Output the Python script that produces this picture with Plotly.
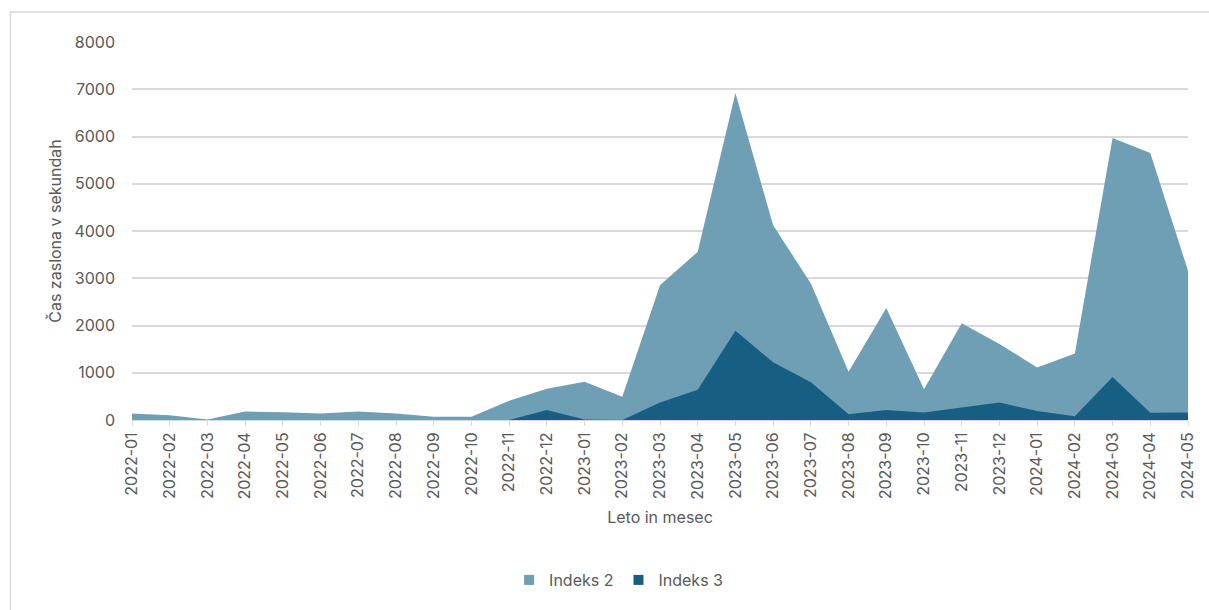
import plotly.graph_objects as go

months = ["2022-01","2022-02","2022-03","2022-04","2022-05","2022-06","2022-07","2022-08",
          "2022-09","2022-10","2022-11","2022-12","2023-01","2023-02","2023-03","2023-04",
          "2023-05","2023-06","2023-07","2023-08","2023-09","2023-10","2023-11","2023-12",
          "2024-01","2024-02","2024-03","2024-04","2024-05"]
indeks2 = [140, 100, 10, 180, 165, 140, 180, 140, 70, 70, 410, 660, 810, 490, 2850, 3560,
           6920, 4120, 2890, 1020, 2370, 650, 2050, 1610, 1110, 1410, 5970, 5650, 3160]
indeks3 = [0, 0, 0, 0, 0, 0, 0, 0, 0, 0, 0, 210, 10, 0, 370, 640,
           1890, 1220, 800, 120, 210, 160, 270, 370, 190, 80, 910, 155, 160]
yticks = [0, 1000, 2000, 3000, 4000, 5000, 6000, 7000, 8000]
series_names = ["Indeks 2", "Indeks 3"]
colors = ["#6f9fb5", "#175f82"]

FONT = "Inter"
TXT = "#595959"
GRID = "#d9d9d9"

fig = go.Figure()
for name, vals, col in zip(series_names, [indeks2, indeks3], colors):
    fig.add_trace(go.Scatter(x=months, y=vals, name=name, mode="lines",
                             line=dict(width=0, color=col), fill="tozeroy",
                             fillcolor=col, showlegend=False))
# legend swatches (squares)
for name, col in zip(series_names, colors):
    fig.add_trace(go.Scatter(x=[None], y=[None], name=name, mode="markers",
                             marker=dict(symbol="square", size=10, color=col),
                             showlegend=True))

W, H = 1209, 610
L, R, T, B = 132, 1191, 42, 420
pw, ph = R - L, B - T

def px(x):
    return (x - L) / pw

def py(y):
    return (B - y) / ph

fig.update_layout(
    width=W, height=H,
    margin=dict(l=L, r=W - R, t=T, b=H - B),
    paper_bgcolor="white", plot_bgcolor="white",
    font=dict(family=FONT, size=16, color=TXT),
    showlegend=True,
    legend=dict(orientation="h", x=px(620), xanchor="center", y=py(580), yanchor="middle",
                font=dict(size=16, color=TXT), traceorder="normal", itemwidth=30,
                tracegroupgap=0),
    xaxis=dict(type="category", categoryorder="array", categoryarray=months,
               tickangle=-90, showgrid=False, showline=True, linecolor=GRID, linewidth=1,
               ticks="outside", ticklen=5, tickcolor=GRID, tickfont=dict(size=16, color=TXT),
               range=[0, len(months) - 1], zeroline=False,
               title=dict(text="Leto in mesec", font=dict(size=16, color=TXT), standoff=12)),
    yaxis=dict(range=[0, 8000], tickvals=yticks, showgrid=True, gridcolor=GRID, gridwidth=1.5,
               zeroline=False, showline=False, ticks="", ticklabelstandoff=16,
               tickfont=dict(size=16, color=TXT),
               title=dict(text="Čas zaslona v sekundah", font=dict(size=16, color=TXT), standoff=8)),
    shapes=[dict(type="rect", xref="paper", yref="paper",
                 x0=px(10), x1=px(1230), y0=py(630), y1=py(12),
                 line=dict(color=GRID, width=1.5), fillcolor="rgba(0,0,0,0)", layer="below")],
)

fig.write_html("out.html")
